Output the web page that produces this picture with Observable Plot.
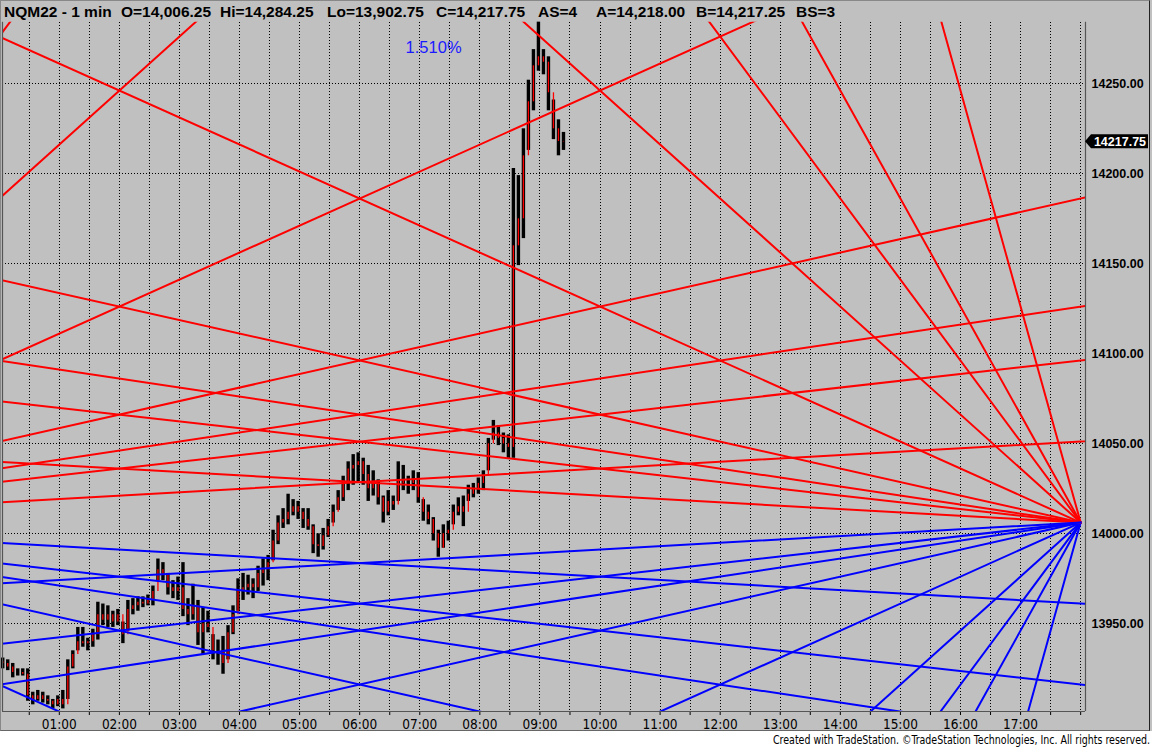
<!DOCTYPE html>
<html><head><meta charset="utf-8">
<script src="https://cdn.jsdelivr.net/npm/d3@7"></script>
<script src="https://cdn.jsdelivr.net/npm/@observablehq/plot@0.6"></script>
<style>
body{margin:0;background:#fff;}
#wrap{position:relative;width:1152px;height:748px;overflow:hidden;font-family:"Liberation Sans",Arial,sans-serif;}
#chart{position:absolute;left:0;top:0;}
.t{position:absolute;top:4px;font-weight:bold;font-size:15.5px;line-height:16px;color:#000;white-space:pre;}
#footer{position:absolute;top:734px;left:0;white-space:pre;font-family:"Liberation Sans Narrow","DejaVu Sans Condensed",sans-serif;font-size:12px;line-height:13px;color:#000;transform-origin:0 0;}
#border{position:absolute;left:0;top:0;width:1150px;height:731px;border-top:1px solid #888;border-left:1px solid #888;border-right:1px solid #222;border-bottom:1px solid #666;box-sizing:border-box;pointer-events:none;}
</style></head>
<body>
<div id="wrap">
  <div id="chart"></div>
  <div id="border"></div>
  <span class="t" style="left:4px">NQM22 - 1 min</span>
  <span class="t" style="left:121px">O=14,006.25</span>
  <span class="t" style="left:220px">Hi=14,284.25</span>
  <span class="t" style="left:327px">Lo=13,902.75</span>
  <span class="t" style="left:436px">C=14,217.75</span>
  <span class="t" style="left:538px">AS=4</span>
  <span class="t" style="left:596px">A=14,218.00</span>
  <span class="t" style="left:696px">B=14,217.25</span>
  <span class="t" style="left:796px">BS=3</span>
  <span id="footer">Created with TradeStation. ©TradeStation Technologies, Inc. All rights reserved.</span>
</div>
<script>
// ---- 5-minute summaries of the 1-minute bars ----
const barHigh = [13931,13930,13928,13925,13925,13925,13912,13913,13912,13910,13908,13910,13913,13930,13935,13948,13948,13942,13947,13962,
13961,13960,13957,13958,13951,13963,13964,13965,13965,13966,13971,13986,13984,13978,13974,13976,13984,13964,13972,13963,
13959,13957,13944,13941,13943,13949,13960,13975,13978,13977,13975,13982,13986,13988,14002,14010,14014,14022,14019,14018,
14014,14014,14005,14000,14003,14008,14016,14024,14032,14040,14044,14045,14042,14038,14035,14030,14021,14024,14021,14040,
14038,14032,14035,14034,14019,14016,14009,14002,14005,14007,14016,14020,14021,14027,14028,14031,14035,14053,14063,14060,
14056,14055,14203,14199,14225,14252,14269,14284.25,14269,14265,14241,14230,14223];
const barLow = [13925,13924,13920,13921,13921,13907,13905,13907,13906,13905,13903,13904,13902.75,13908,13925,13935,13937,13935,13937,13941,
13949,13948,13948,13949,13939,13946,13955,13957,13959,13960,13960,13974,13974,13966,13964,13963,13954,13949,13952,13938,
13933,13945,13930,13927,13922,13930,13944,13957,13963,13966,13964,13968,13971,13974,13985,13994,14003,14005,14010,14008,
14003,14002,13989,13987,13991,13998,14006,14013,14018,14024,14027,14029,14027,14018,14021,14016,14006,14010,14013,14018,
14024,14022,14024,14017,14007,14005,13996,13987,13992,13996,14005,14010,14004,14018,14020,14022,14024,14035,14052,14049,
14045,14042,14042,14149,14164,14213,14235,14257,14255,14235,14219,14210,14213];
const barClose = [13928,13926,13923,13923,13922,13910,13908,13910,13908,13907,13905,13908,13905,13926,13933,13940,13939,13940,13944,13955,
13952,13955,13951,13955,13944,13958,13960,13962,13961,13963,13968,13980,13977,13970,13968,13970,13958,13955,13960,13945,
13950,13948,13935,13935,13928,13945,13955,13968,13970,13972,13970,13978,13980,13984,13996,14006,14008,14012,14015,14012,
14008,14004,13994,13993,13999,14004,14012,14020,14028,14036,14038,14040,14033,14025,14028,14020,14012,14018,14016,14030,
14028,14028,14030,14020,14012,14008,14000,13992,14000,14002,14012,14015,14012,14022,14025,14028,14032,14050,14056,14053,
14050,14048,14160,14175,14210,14240,14260,14265,14262,14245,14225,14218,14217.75];
const firstOpen = 13929;
const firstBarMinute = 1;      // 00:01
const barMinutes = 5;          // each summary bar spans 5 minutes

// ---- Gann fans (two mirrored fans anchored at the session open price) ----
const fanPrice = 14006.25;
const fanAnchors = [{time: -6, dir: 1}, {time: 18, dir: -1}]; // 18:00 prior day, 18:00 today (hours)
const gannNames = ["8x1","4x1","3x1","2x1","1x1","1x2","1x3","1x4","1x8"];
const gannMultiples = [8,4,3,2,1,1/2,1/3,1/4,1/8];
const pointsPerHour = 15;      // the 1x1 rate

// ---- axes ----
const priceTicks = [13950,14000,14050,14100,14150,14200,14250];
const hourTicks = [1,2,3,4,5,6,7,8,9,10,11,12,13,14,15,16,17];
const gridHours = [0.5,1,1.5,2,2.5,3,3.5,4,4.5,5,5.5,6,6.5,7,7.5,8,8.5,9,9.5,10,10.5,11,11.5,12,12.5,13,13.5,14,14.5,15,15.5,16,16.5,17,17.5,18];
const lastPrice = 14217.75;
const pctLabel = {time: 7.23, price: 14270, text: "1.510%"};

const xDomain = [0.0546, 18.0806];
const yDomain = [13901.3, 14284.25];

// build tables
const bars = barHigh.map((h, i) => ({
  t: (firstBarMinute + i * barMinutes + barMinutes / 2) / 60,
  high: h, low: barLow[i], close: barClose[i],
  open: i === 0 ? firstOpen : barClose[i - 1]
}));
const fanLines = [];
fanAnchors.forEach((a, ai) => {
  gannMultiples.forEach((m, gi) => {
    const span = 40;
    [[1, "#ff0000"], [-1, "#0000ff"]].forEach(([sgn, col]) => {
      const id = `${ai}-${gannNames[gi]}-${sgn}`;
      fanLines.push({id, color: col, t: a.time, p: fanPrice});
      fanLines.push({id, color: col, t: a.time + a.dir * span, p: fanPrice + sgn * m * pointsPerHour * span});
    });
  });
});

const fmtHour = h => String(h).padStart(2, "0") + ":00";

const chart = Plot.plot({
  width: 1152, height: 731,
  marginTop: 21.65, marginBottom: 20, marginLeft: 2, marginRight: 67,
  style: {background: "#c0c0c0", color: "#000", overflow: "visible", fontFamily: "'Liberation Sans', Arial, sans-serif"},
  x: {domain: xDomain},
  y: {domain: yDomain},
  color: {type: "identity"},
  marks: [
    Plot.ruleX(gridHours, {stroke: "#000", strokeWidth: 1, strokeDasharray: "1,2", shapeRendering: "crispEdges"}),
    Plot.ruleY(priceTicks, {stroke: "#000", strokeWidth: 1, strokeDasharray: "1,2", shapeRendering: "crispEdges"}),
    Plot.ruleX(bars, {x: "t", y1: "low", y2: "high", stroke: "#000", strokeWidth: 3.4}),
    Plot.ruleX(bars, {x: "t", y1: "open", y2: "close", stroke: "#ff0000", strokeWidth: 1.3}),
    Plot.line(fanLines, {x: "t", y: "p", z: "id", stroke: "color", strokeWidth: 2, clip: true}),
    Plot.text([pctLabel], {x: "time", y: "price", text: "text", fill: "#1a1aff", fontSize: 16.5}),
    Plot.axisY({anchor: "right", ticks: priceTicks, tickSize: 0, tickPadding: 6, tickFormat: d => d.toFixed(2), fontSize: 12.5, fontWeight: "bold", label: null}),
    Plot.axisX({anchor: "bottom", ticks: gridHours, tickSize: 4, tickFormat: () => "", label: null}),
    Plot.axisX({anchor: "bottom", ticks: hourTicks, tickSize: 0, tickPadding: 8, tickFormat: fmtHour, label: null, fontFamily: "'Liberation Sans Narrow','DejaVu Sans Condensed',sans-serif", fontSize: 13.5}),
    Plot.ruleX([xDomain[0], xDomain[1]], {stroke: "#555", strokeWidth: 1.2}),
    Plot.ruleY([yDomain[0]], {stroke: "#555", strokeWidth: 1.2})
  ]
});
document.getElementById("chart").appendChild(chart);

// last price flag on the price axis
const yv = chart.scale("y").apply(lastPrice);
const xr = chart.scale("x").apply(xDomain[1]);
const g = d3.select(chart).append("g");
g.append("path").attr("d", `M${xr},${yv} L${xr + 6},${yv - 7} H${xr + 63} V${yv + 7} H${xr + 6} Z`).attr("fill", "#000");
g.append("text").attr("x", xr + 35).attr("y", yv).attr("dy", "0.35em").attr("text-anchor", "middle")
  .attr("fill", "#fff").attr("font-weight", "bold").attr("font-size", "12.5px").text(lastPrice.toFixed(2));

// fit footer to its width
const f = document.getElementById("footer");
const fw = f.getBoundingClientRect().width;
const target = 377;
f.style.left = (1150 - target) + "px";
f.style.transform = `scaleX(${target / fw})`;
</script>
</body></html>
